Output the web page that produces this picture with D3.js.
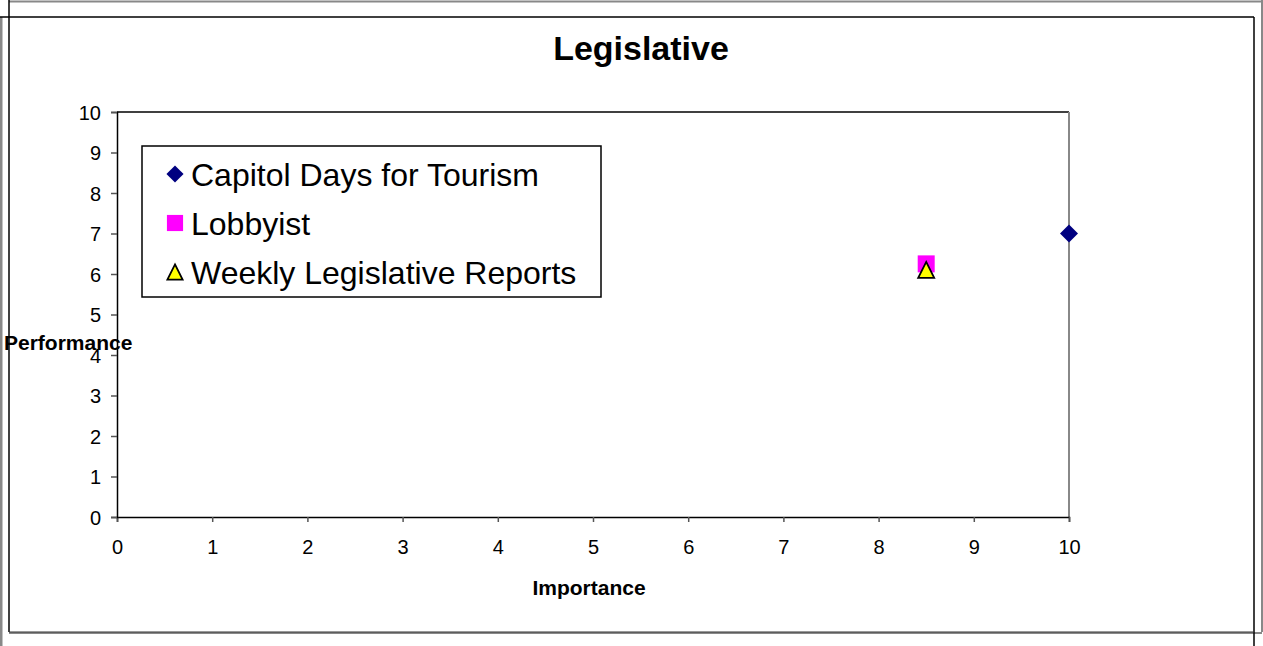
<!DOCTYPE html>
<html><head><meta charset="utf-8">
<script src="https://cdn.jsdelivr.net/npm/d3@7"></script>
<style>body{margin:0;background:#fff;}svg{display:block;font-family:"Liberation Sans",Arial,sans-serif;}</style>
</head><body>
<script>
const title = "Legislative";
const seriesNames = ["Capitol Days for Tourism", "Lobbyist", "Weekly Legislative Reports"];
const importance = [10, 8.5, 8.5];
const performance = [7, 6.25, 6.1];
const xTicks = [0,1,2,3,4,5,6,7,8,9,10];
const yTicks = [0,1,2,3,4,5,6,7,8,9,10];
const xLabel = "Importance";
const yLabel = "Performance";

const W = 1263, H = 646;
const svg = d3.select("body").append("svg").attr("width", W).attr("height", H);

// outer frames
const lines = [
  [9,1.5,1262,1.5,"#888",2],[1,17,1,646,"#888",3],[1262,0,1262,632,"#888",2],[9,633,1262,633,"#888",2],
  [0,17,1254,17,"#000",1.5],[9,0,9,632,"#000",1.5],[1254,17,1254,646,"#000",1.5],[9,632,1254,632,"#333",1]
];
lines.forEach(l => svg.append("line").attr("x1",l[0]).attr("y1",l[1]).attr("x2",l[2]).attr("y2",l[3]).attr("stroke",l[4]).attr("stroke-width",l[5]));

const x = d3.scaleLinear().domain([0,10]).range([117,1069]);
const y = d3.scaleLinear().domain([0,10]).range([517,112]);

// plot area border
svg.append("line").attr("x1",117).attr("y1",112).attr("x2",1069).attr("y2",112).attr("stroke","#000").attr("stroke-width",1.5);
svg.append("line").attr("x1",1069).attr("y1",112).attr("x2",1069).attr("y2",517).attr("stroke","#888").attr("stroke-width",2);

const xAxis = svg.append("g").attr("transform","translate(0,517)")
  .call(d3.axisBottom(x).tickValues(xTicks).tickFormat(d3.format("d")).tickSize(5).tickPadding(18));
const yAxis = svg.append("g").attr("transform","translate(117,0)")
  .call(d3.axisLeft(y).tickValues(yTicks).tickFormat(d3.format("d")).tickSize(6).tickPadding(10));
[xAxis,yAxis].forEach(a=>{
  a.attr("font-size",null).attr("font-family",null);
  a.selectAll("text").style("font-size","20px").style("font-family","'Liberation Sans', Arial, sans-serif").attr("fill","#000");
  a.selectAll(".tick line").attr("stroke","#555").attr("stroke-width",1.5);
});
xAxis.select(".domain").attr("stroke","#000").attr("stroke-width",1.5);
yAxis.select(".domain").attr("stroke","#000").attr("stroke-width",1.5);
yAxis.selectAll("text").attr("dy","0.35em");

svg.append("text").attr("x",641).attr("y",60).attr("text-anchor","middle")
  .style("font-size","34px").attr("font-weight","bold").text(title);
svg.append("text").attr("x",589).attr("y",595).attr("text-anchor","middle")
  .style("font-size","21px").attr("font-weight","bold").text(xLabel);
svg.append("text").attr("x",4).attr("y",350)
  .style("font-size","21px").attr("font-weight","bold").text(yLabel);

const fills = ["#000080","#ff00ff","#ffff00"];
function drawMarker(g, i, cx, cy, sc){
  sc = sc || 1;
  let d;
  if (i===0){ const r=9*sc; d=`M${cx},${cy-r}L${cx+r},${cy}L${cx},${cy+r}L${cx-r},${cy}Z`; }
  else if (i===1){ const r=8.5*sc; d=`M${cx-r},${cy-r}H${cx+r}V${cy+r}H${cx-r}Z`; }
  else { const r=8*sc; d=`M${cx},${cy-r}L${cx+r},${cy+r}L${cx-r},${cy+r}Z`; }
  g.append("path").attr("d", d).attr("fill",fills[i])
    .attr("stroke", i===2?"#000":"none").attr("stroke-width",1.8);
}
const pts = svg.append("g");
seriesNames.forEach((n,i)=>drawMarker(pts,i,x(importance[i]),y(performance[i])));

// legend
const lg = svg.append("g");
lg.append("rect").attr("x",142).attr("y",146).attr("width",459).attr("height",151)
  .attr("fill","#fff").attr("stroke","#000").attr("stroke-width",1.5);
const rowY = [174, 223, 272];
seriesNames.forEach((n,i)=>{
  drawMarker(lg,i,175,rowY[i], 0.95);
  lg.append("text").attr("x",191).attr("y",rowY[i]+11.5).style("font-size","32px").text(n);
});
</script>
</body></html>
